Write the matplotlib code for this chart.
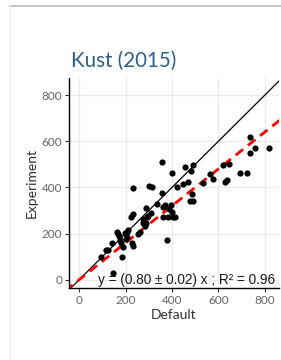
import matplotlib
matplotlib.use("Agg")
import matplotlib.pyplot as plt
import numpy as np

# values
default = [94, 115, 125, 140, 144, 183, 161, 166, 173, 176, 180, 187, 197, 205, 212,
           202, 207, 226, 233, 223, 231, 233, 255, 262, 274, 277, 284, 288, 291, 298,
           288, 308, 313, 300, 334, 356, 356, 360, 372, 363, 385, 378, 388, 395, 399,
           406, 414, 399, 421, 447, 457, 471, 483, 493, 476, 490, 486, 533, 565, 579,
           622, 630, 637, 648, 695, 723, 738, 757, 735, 821]
experiment = [98, 127, 127, 158, 29, 97, 209, 199, 190, 173, 158, 144, 202, 209, 216,
              176, 187, 161, 148, 271, 285, 396, 199, 209, 245, 262, 231, 245, 274, 277,
              310, 288, 401, 407, 329, 512, 375, 317, 323, 271, 274, 173, 305, 324, 295,
              274, 274, 464, 403, 414, 490, 425, 473, 497, 343, 343, 372, 418, 457, 435,
              497, 425, 432, 504, 465, 464, 620, 572, 550, 572]
slope = 0.80
slope_err = 0.02
r2 = 0.96
ticks = [0, 200, 400, 600, 800]

fig = plt.figure(figsize=(2.81, 3.60), dpi=100)

# faint card border
fig.add_artist(plt.Line2D([10 / 281, 1], [1 - 6 / 360] * 2, color="#bbbbbb", lw=1.2))
fig.add_artist(plt.Line2D([10 / 281] * 2, [0, 1 - 6 / 360], color="#eeeeee", lw=0.8))

ax = fig.add_axes([69 / 281, 72 / 360, 210 / 281, 210 / 360])
xlim = (-44, 862)
ylim = (-36, 875)
ax.set_xlim(xlim)
ax.set_ylim(ylim)

ax.grid(True, color="#ebebeb", lw=1.0)
ax.set_axisbelow(True)

xx = np.array([-60, 900])
ax.plot(xx, xx, color="black", lw=0.9, zorder=2)
ax.plot(xx, slope * xx, color="red", lw=2.0, ls=(0, (3.4, 2.2)), zorder=2)
ax.scatter(default, experiment, s=20, color="black", zorder=3, linewidths=0)

ax.text(846, 0, f"y = ({slope:.2f} ± {slope_err:.2f}) x ; R² = {r2:.2f}",
        ha="right", va="center", fontsize=9.8, family="Liberation Sans",
        color="#1a1a1a", zorder=4)

ax.set_xticks(ticks)
ax.set_yticks(ticks)
ax.tick_params(length=3, width=0.8, color="#333333", labelcolor="#666666",
               labelsize=8.5, pad=2)
for lab in ax.get_xticklabels() + ax.get_yticklabels():
    lab.set_family("Lato")
for side in ["top", "right"]:
    ax.spines[side].set_visible(False)
for side in ["left", "bottom"]:
    ax.spines[side].set_linewidth(1.0)
    ax.spines[side].set_color("black")

ax.set_xlabel("Default", family="Lato", fontsize=10, color="#333333", labelpad=2)
ax.set_ylabel("Experiment", family="Lato", fontsize=10, color="#333333", labelpad=3)

fig.text(71 / 281, 1 - 67 / 360, "Kust (2015)", family="Lato", fontsize=14.8,
         color="#2f5f8f", ha="left", va="baseline")

fig.savefig("out.png", dpi=100)
